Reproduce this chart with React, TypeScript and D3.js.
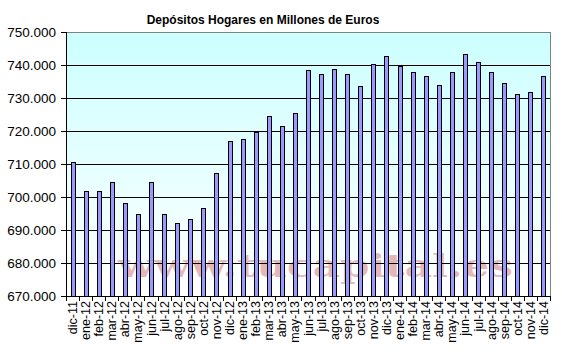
import React from "react";
import * as d3 from "d3";

const categories = [
  "dic-11", "ene-12", "feb-12", "mar-12", "abr-12", "may-12", "jun-12", "jul-12", "ago-12", "sep-12", "oct-12", "nov-12",
  "dic-12", "ene-13", "feb-13", "mar-13", "abr-13", "may-13", "jun-13", "jul-13", "ago-13", "sep-13", "oct-13", "nov-13",
  "dic-13", "ene-14", "feb-14", "mar-14", "abr-14", "may-14", "jun-14", "jul-14", "ago-14", "sep-14", "oct-14", "nov-14",
  "dic-14",
];

const values = [
  710.5, 701.7, 701.7, 704.5, 698.1, 694.8, 704.5, 694.8, 692.0, 693.2, 696.6, 707.2,
  717.0, 717.6, 719.8, 724.5, 721.4, 725.4, 738.4, 737.3, 738.7, 737.3, 733.5, 740.2,
  742.6, 739.6, 737.8, 736.6, 733.8, 737.8, 743.2, 740.8, 737.8, 734.5, 731.1, 731.7,
  736.6,
];

const yTicks = [670, 680, 690, 700, 710, 720, 730, 740, 750];

const title = "Depósitos Hogares en Millones de Euros";
const watermark = "www.tucapital.es";

const W = 562;
const H = 356;
const left = 66;
const right = 550;
const top = 32;
const bottom = 296;

export default function App() {
  const x = d3.scaleBand<string>().domain(categories).range([left, right]).padding(0);
  const y = d3.scaleLinear().domain([670, 750]).range([bottom, top]);
  const bw = 4;
  const fmt = (v: number) => v.toFixed(3);

  return (
    <svg
      width={W}
      height={H}
      style={{ position: "absolute", left: 0, top: 0, fontFamily: "'Liberation Sans', Arial, sans-serif" }}
    >
      <defs>
        <linearGradient id="bg" x1="0" y1="0" x2="0" y2="1">
          <stop offset="0" stopColor="#CCFFFF" />
          <stop offset="1" stopColor="#FFFFFF" />
        </linearGradient>
      </defs>
      <rect x={0} y={0} width={W} height={H} fill="#fff" />
      <rect x={left} y={top} width={right - left} height={bottom - top} fill="url(#bg)" />
      <text
        x={118}
        y={277}
        textLength={395}
        lengthAdjust="spacingAndGlyphs"
        fontFamily="'DejaVu Serif', serif"
        fontWeight="bold"
        fontSize={31}
        fill="#cc5555"
        opacity={0.42}
      >
        {watermark}
      </text>
      {yTicks.map((t) => (
        <g key={t}>
          {t !== 750 && t !== 670 && (
            <line x1={left} x2={right} y1={Math.round(y(t)) + 0.5} y2={Math.round(y(t)) + 0.5} stroke="#000" strokeWidth={1} />
          )}
          <line x1={left - 5} x2={left} y1={Math.round(y(t)) + 0.5} y2={Math.round(y(t)) + 0.5} stroke="#000" />
          <text x={56} y={y(t) + 5} textAnchor="end" fontSize={13.5} fill="#000">
            {fmt(t)}
          </text>
        </g>
      ))}
      <line x1={left} x2={right} y1={top + 0.5} y2={top + 0.5} stroke="#808080" />
      <line x1={right + 0.5} x2={right + 0.5} y1={top} y2={bottom} stroke="#808080" />
      {categories.map((c, i) => {
        const cx = (x(c) as number) + x.bandwidth() / 2;
        const yt = y(values[i]);
        return (
          <rect
            key={c}
            x={Math.round(cx - bw / 2) + 0.5}
            y={Math.round(yt) + 0.5}
            width={bw}
            height={bottom - Math.round(yt)}
            fill="#9999FF"
            stroke="#000"
            strokeWidth={1}
          />
        );
      })}
      <line x1={left + 0.5} x2={left + 0.5} y1={top} y2={bottom} stroke="#000" />
      <line x1={left} x2={right} y1={bottom + 0.5} y2={bottom + 0.5} stroke="#000" />
      {categories.map((c) => {
        const bx = Math.round(x(c) as number) + 0.5;
        return <line key={"t" + c} x1={bx} x2={bx} y1={bottom} y2={bottom + 5} stroke="#000" />;
      })}
      <line x1={right + 0.5} x2={right + 0.5} y1={bottom} y2={bottom + 5} stroke="#000" />
      {categories.map((c) => {
        const cx = (x(c) as number) + x.bandwidth() / 2;
        return (
          <text
            key={"l" + c}
            transform={`translate(${cx + 4.5},${bottom + 5}) rotate(-90)`}
            textAnchor="end"
            fontSize={12.5}
            fill="#000"
          >
            {c}
          </text>
        );
      })}
      <text x={263} y={24} textAnchor="middle" fontSize={12} fontWeight="bold" fill="#000">
        {title}
      </text>
    </svg>
  );
}
